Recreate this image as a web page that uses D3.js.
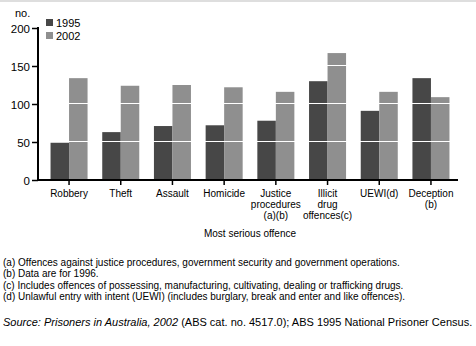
<!DOCTYPE html>
<html>
<head>
<meta charset="utf-8">
<script src="https://cdn.jsdelivr.net/npm/d3@7"></script>
<style>
  body { margin: 0; background: #fff; }
  text { font-family: Arial, 'Liberation Sans', sans-serif; fill: #000; }
</style>
</head>
<body>
<script>
const categories = ['Robbery', 'Theft', 'Assault', 'Homicide', 'Justice procedures (a)(b)', 'Illicit drug offences(c)', 'UEWI(d)', 'Deception (b)'];
const categoryLines = [['Robbery'], ['Theft'], ['Assault'], ['Homicide'], ['Justice', 'procedures', '(a)(b)'], ['Illicit', 'drug', 'offences(c)'], ['UEWI(d)'], ['Deception', '(b)']];
const series = ['1995', '2002'];
const values1995 = [49, 63, 71, 72, 78, 130, 91, 134];
const values2002 = [134, 124, 125, 122, 116, 167, 116, 109];
const yTicks = [0, 50, 100, 150, 200];
const footnotes = [
  '(a) Offences against justice procedures, government security and government operations.',
  '(b) Data are for 1996.',
  '(c) Includes offences of possessing, manufacturing, cultivating, dealing or trafficking drugs.',
  '(d) Unlawful entry with intent (UEWI) (includes burglary, break and enter and like offences).'
];

const colors = { '1995': '#474747', '2002': '#8f8f8f' };
const width = 476, height = 346;

const svg = d3.select('body').append('svg')
  .attr('width', width)
  .attr('height', height);

// thin grey rule along the top
svg.append('rect')
  .attr('x', 0).attr('y', 0)
  .attr('width', width).attr('height', 2)
  .attr('fill', '#dedede');

const y = d3.scaleLinear().domain([0, 200]).range([180, 28]);

const x0 = d3.scaleBand()
  .domain(categories)
  .range([43.2, 456.8])
  .paddingInner(0.284)
  .paddingOuter(0.142);

const x1 = d3.scaleBand()
  .domain(series)
  .range([0, x0.bandwidth()]);

const data = categories.map((c, i) => ({ cat: c, '1995': values1995[i], '2002': values2002[i] }));

const groups = svg.append('g').selectAll('g')
  .data(data)
  .enter()
  .append('g')
  .attr('transform', d => `translate(${x0(d.cat)},0)`);

groups.selectAll('rect')
  .data(d => series.map(s => ({ key: s, value: d[s] })))
  .enter()
  .append('rect')
  .attr('x', d => x1(d.key))
  .attr('y', d => y(d.value))
  .attr('width', x1.bandwidth())
  .attr('height', d => y(0) - y(d.value))
  .attr('fill', d => colors[d.key]);

// white gridlines drawn over the bars
svg.append('g').selectAll('line')
  .data(yTicks.filter(t => t > 0 && t < 200))
  .enter()
  .append('line')
  .attr('x1', 39).attr('x2', 458)
  .attr('y1', d => Math.round(y(d)) - 0.5)
  .attr('y2', d => Math.round(y(d)) - 0.5)
  .attr('stroke', '#fff')
  .attr('stroke-width', 1);

// y axis
const yAxis = svg.append('g')
  .attr('transform', 'translate(38,0)')
  .call(d3.axisLeft(y).tickValues(yTicks).tickSize(6).tickSizeOuter(0).tickPadding(2));
yAxis.select('.domain').remove();
yAxis.selectAll('line').attr('stroke', '#000').attr('stroke-width', 1.5);
yAxis.selectAll('text').style('font-size', '11.5px').attr('dy', '0.36em');
svg.append('line')
  .attr('x1', 38).attr('x2', 38)
  .attr('y1', y(200) - 1).attr('y2', 181)
  .attr('stroke', '#000').attr('stroke-width', 2);

// x axis
const xAxis = svg.append('g')
  .attr('transform', 'translate(0,181)')
  .call(d3.axisBottom(x0).tickSize(4).tickSizeOuter(0).tickFormat(''));
xAxis.select('.domain').remove();
xAxis.selectAll('line').attr('stroke', '#000').attr('stroke-width', 1.5);
svg.append('line')
  .attr('x1', 37).attr('x2', 458)
  .attr('y1', 180).attr('y2', 180)
  .attr('stroke', '#000').attr('stroke-width', 2);

// category labels
svg.append('g').selectAll('text')
  .data(categories)
  .enter()
  .append('text')
  .attr('text-anchor', 'middle')
  .style('font-size', '10px')
  .each(function(d, i) {
    const cx = x0(d) + x0.bandwidth() / 2;
    d3.select(this).selectAll('tspan')
      .data(categoryLines[i])
      .enter()
      .append('tspan')
      .attr('x', cx)
      .attr('y', (l, j) => 197 + j * 11)
      .text(l => l);
  });

svg.append('text')
  .attr('x', (x0.range()[0] + x0.range()[1]) / 2)
  .attr('y', 236.5)
  .attr('text-anchor', 'middle')
  .style('font-size', '10px')
  .text('Most serious offence');

// units label
svg.append('text')
  .attr('x', 15).attr('y', 17)
  .style('font-size', '11px')
  .text('no.');

// legend
const legend = svg.append('g').attr('transform', 'translate(46,19)');
series.forEach((s, i) => {
  legend.append('rect')
    .attr('x', 0).attr('y', i * 13)
    .attr('width', 7).attr('height', 7)
    .attr('fill', colors[s]);
  legend.append('text')
    .attr('x', 10).attr('y', i * 13 + 7.5)
    .style('font-size', '11px')
    .text(s);
});

// footnotes
svg.append('g').selectAll('text')
  .data(footnotes)
  .enter()
  .append('text')
  .attr('x', 3)
  .attr('y', (d, i) => 266 + i * 11.4)
  .style('font-size', '10px')
  .text(d => d);

const src = svg.append('text')
  .attr('x', 3).attr('y', 326)
  .style('font-size', '11px');
src.append('tspan').style('font-style', 'italic').text('Source: Prisoners in Australia, 2002');
src.append('tspan').text(' (ABS cat. no. 4517.0); ABS 1995 National Prisoner Census.');
</script>
</body>
</html>
